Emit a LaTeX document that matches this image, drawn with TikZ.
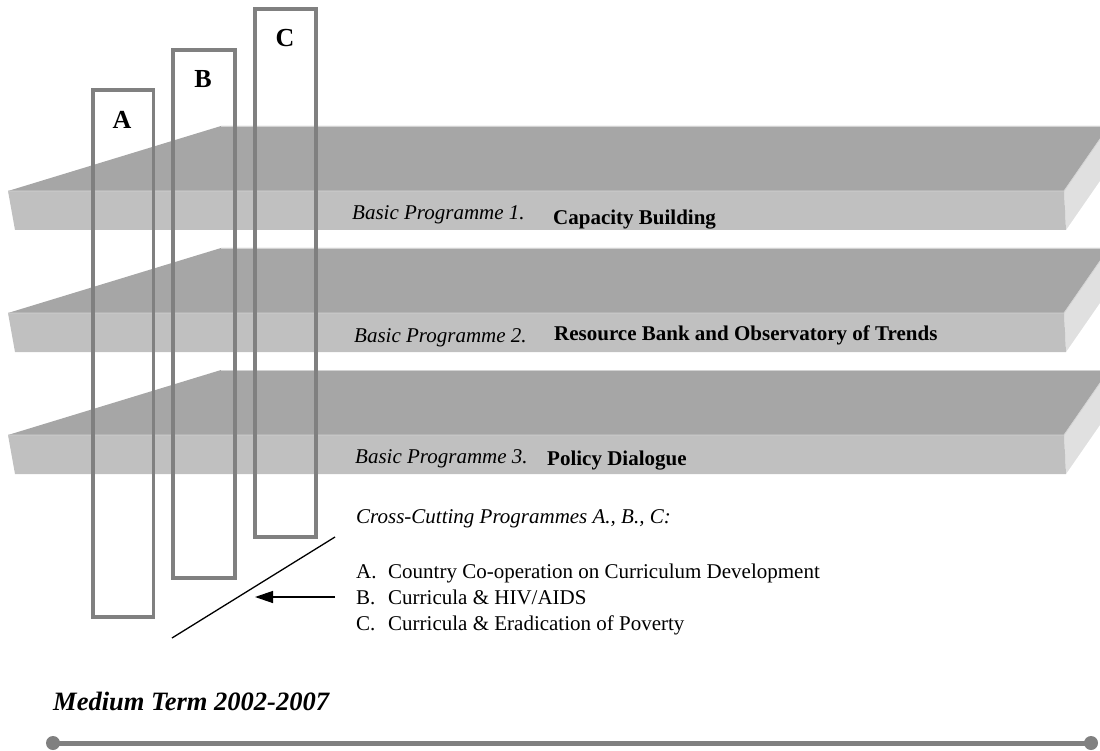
\documentclass[tikz,border=0pt]{standalone}
\usepackage{fontspec}
\setmainfont{Liberation Serif}
\usetikzlibrary{arrows.meta}
\definecolor{topgray}{HTML}{A6A6A6}
\definecolor{frontgray}{HTML}{C0C0C0}
\definecolor{sidegray}{HTML}{E0E0E0}
\definecolor{edgegray}{HTML}{D2D2D2}
\definecolor{framegray}{HTML}{808080}
\begin{document}
\begin{tikzpicture}[x=1pt,y=-1pt,
  lbl/.style={font=\fontsize{21}{25}\selectfont, inner sep=0pt, anchor=base west},
  letterlbl/.style={font=\fontsize{26}{30}\selectfont\bfseries, inner sep=0pt},
  progframe/.style={draw=framegray, line width=3.6pt},
  dotnode/.style={circle, fill=framegray, minimum size=14pt, inner sep=0pt},
  timeline/.style={draw=framegray, line width=5pt},
  thinline/.style={draw=black, line width=1.3pt}]
\useasboundingbox (0,0) rectangle (1100,751);
\begin{scope}
\clip (0,0) rectangle (1100,751);
\foreach \dy in {0,122,244} {
  \begin{scope}[yshift=-\dy pt]
    \fill[topgray] (8,191) -- (221,126) -- (1109,126) -- (1064,191) -- cycle;
    \fill[sidegray] (1064,191) -- (1109,126) -- (1111,165) -- (1066,230) -- cycle;
    \fill[frontgray] (8,191) -- (1064,191) -- (1066,230) -- (15,230) -- cycle;
    \draw[edgegray, line width=0.8pt] (8,191) -- (1064,191) -- (1109,126);
    \draw[edgegray, line width=0.8pt] (221,126.4) -- (1109,126.4);
  \end{scope}
}
\end{scope}
% slab texts
\node[lbl] (bp1) at (352,220) {\itshape Basic Programme 1.};
\node[lbl] (bp1t) at (553,225) {\bfseries Capacity Building};
\node[lbl] (bp2) at (354,342) {\itshape Basic Programme 2.};
\node[lbl] (bp2t) at (554,340) {\bfseries Resource Bank and Observatory of Trends};
\node[lbl] (bp3) at (355,463) {\itshape Basic Programme 3.};
\node[lbl] (bp3t) at (547,465) {\bfseries Policy Dialogue};
% cross-cutting frames
\draw[progframe] (93,90) rectangle (153.5,617);
\draw[progframe] (173,50) rectangle (235,578);
\draw[progframe] (255,9) rectangle (316,537);
\node[letterlbl] (la) at (122,120) {A};
\node[letterlbl] (lb) at (203,79) {B};
\node[letterlbl] (lc) at (285,38) {C};
% legend
\node[lbl] (cc) at (356,523) {\itshape Cross-Cutting Programmes A., B., C:};
\node[lbl] (ia) at (356,578) {A.};
\node[lbl] (ta) at (388,578) {Country Co-operation on Curriculum Development};
\node[lbl] (ib) at (356,604) {B.};
\node[lbl] (tb) at (388,604) {Curricula \& HIV/AIDS};
\node[lbl] (ic) at (356,630) {C.};
\node[lbl] (tc) at (388,630) {Curricula \& Eradication of Poverty};
\coordinate (d1) at (172,638);
\coordinate (d2) at (335,537);
\draw[thinline] (d1) -- (d2);
\coordinate (arrtail) at (335,597);
\coordinate (arrtip) at (255,597);
\draw[thinline, -{Triangle[length=18pt,width=12pt]}] (arrtail) -- (arrtip);
% timeline
\node[font=\fontsize{26.5}{30}\selectfont\bfseries\itshape, inner sep=0pt, anchor=base west] (mt) at (53,710) {Medium Term 2002-2007};
\node[dotnode] (t1) at (53,743) {};
\node[dotnode] (t2) at (1091,743) {};
\draw[timeline] (t1.center) -- (t2.center);
\end{tikzpicture}
\end{document}
